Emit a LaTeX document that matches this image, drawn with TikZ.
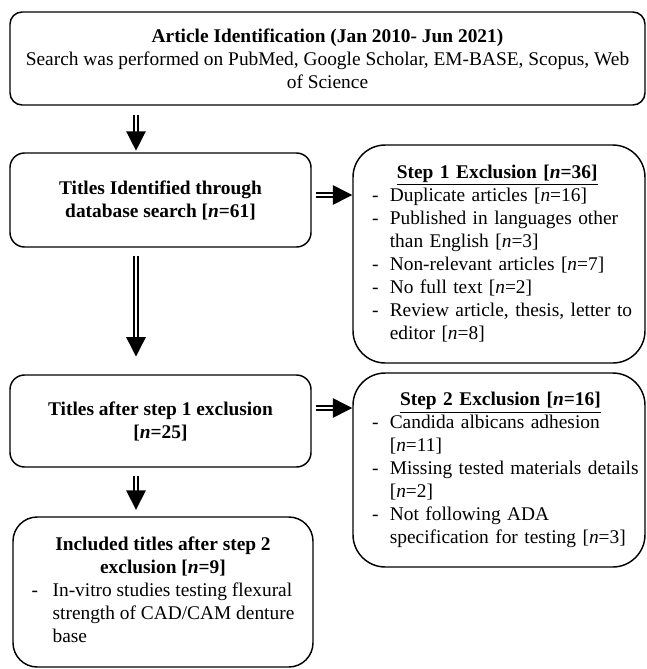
\documentclass[tikz,border=0pt]{standalone}
\usepackage{fontspec}
\setmainfont{Liberation Serif}
\usetikzlibrary{arrows.meta}
\newcommand{\pxu}{0.619pt}
\begin{document}
\begin{tikzpicture}[x=0.619pt, y=-0.619pt, font=\fontsize{12}{14.2}\selectfont]
%styles
\tikzstyle{flowbox}=[draw, line width=0.9pt, rounded corners=9pt, inner sep=0pt, align=center]
\tikzstyle{exbox}=[flowbox, rounded corners=20pt, inner xsep=5*\pxu, text width=282*\pxu, align=left]
\tikzstyle{dblarrow}=[double, double distance=1.6pt, line width=0.9pt, -{Triangle[length=12pt, width=12pt]}]
\useasboundingbox (0,0) rectangle (647,669);
%guides for the arrows
\coordinate (vline) at (136,0);
\coordinate (hline1) at (0,195);
\coordinate (hline2) at (0,408);
%left column
\node[flowbox, rounded corners=7.5pt, minimum width=635*\pxu, minimum height=93*\pxu] (ident) at (327.5,58.5)
  {\textbf{Article Identification (Jan 2010- Jun 2021)}\\Search was performed on PubMed, Google Scholar, EM-BASE, Scopus, Web\\of Science};
\node[flowbox, font=\fontsize{12}{14.2}\selectfont\bfseries, minimum width=301*\pxu, minimum height=94*\pxu] (titles) at (160.5,200)
  {Titles Identified through\\database search [\textit{n}=61]};
\node[flowbox, font=\fontsize{12}{14.2}\selectfont\bfseries, minimum width=301*\pxu, minimum height=92*\pxu] (after1) at (160.5,421)
  {Titles after step 1 exclusion\\{}[\textit{n}=25]};
\node[flowbox, rounded corners=15pt, minimum width=300*\pxu, minimum height=150*\pxu] (incl) at (163,592)
  {\begin{tabular}{@{}p{13pt}@{}l@{}}
  \multicolumn{2}{c}{\textbf{Included titles after step 2}}\\
  \multicolumn{2}{c}{\textbf{exclusion [\textit{n}=9]}}\\
  - & In-vitro studies testing flexural\\
    & strength of CAD/CAM denture\\
    & base
  \end{tabular}};
%right column
\node[exbox, minimum height=218*\pxu] (excl1) at (499,254)
  {\begin{tabular}{@{\hspace{8.7pt}}p{11pt}@{}l@{}}
  \multicolumn{2}{@{\hspace{8.7pt}}c}{\textbf{\underline{Step 1 Exclusion [\textit{n}=36]}}}\\
  - & Duplicate articles [\textit{n}=16]\\
  - & Published in languages other\\
    & than English [\textit{n}=3]\\
  - & Non-relevant articles [\textit{n}=7]\\
  - & No full text [\textit{n}=2]\\
  - & Review article, thesis, letter to\\
    & editor [\textit{n}=8]
  \end{tabular}};
\node[exbox, minimum height=194*\pxu] (excl2) at (499,470)
  {\begin{tabular}{@{\hspace{8.7pt}}p{11pt}@{}l@{}}
  \multicolumn{2}{@{\hspace{8.7pt}}c}{\textbf{\underline{Step 2 Exclusion [\textit{n}=16]}}}\\
  - & Candida albicans adhesion\\
    & [\textit{n}=11]\\
  - & Missing tested materials details\\
    & [\textit{n}=2]\\
  - & Not following ADA\\
    & specification for testing [\textit{n}=3]
  \end{tabular}};
%arrows
\draw[dblarrow, shorten <=6pt, shorten >=1pt] (vline |- ident.south) -- (vline |- titles.north);
\draw[dblarrow, shorten <=5pt, shorten >=11pt] (vline |- titles.south) -- (vline |- after1.north);
\draw[dblarrow, shorten <=5pt, shorten >=4pt] (vline |- after1.south) -- (vline |- incl.north);
\draw[dblarrow, shorten <=2.5pt] (hline1 -| titles.east) -- (hline1 -| excl1.west);
\draw[dblarrow, shorten <=2.5pt] (hline2 -| after1.east) -- (hline2 -| excl2.west);
\end{tikzpicture}
\end{document}
